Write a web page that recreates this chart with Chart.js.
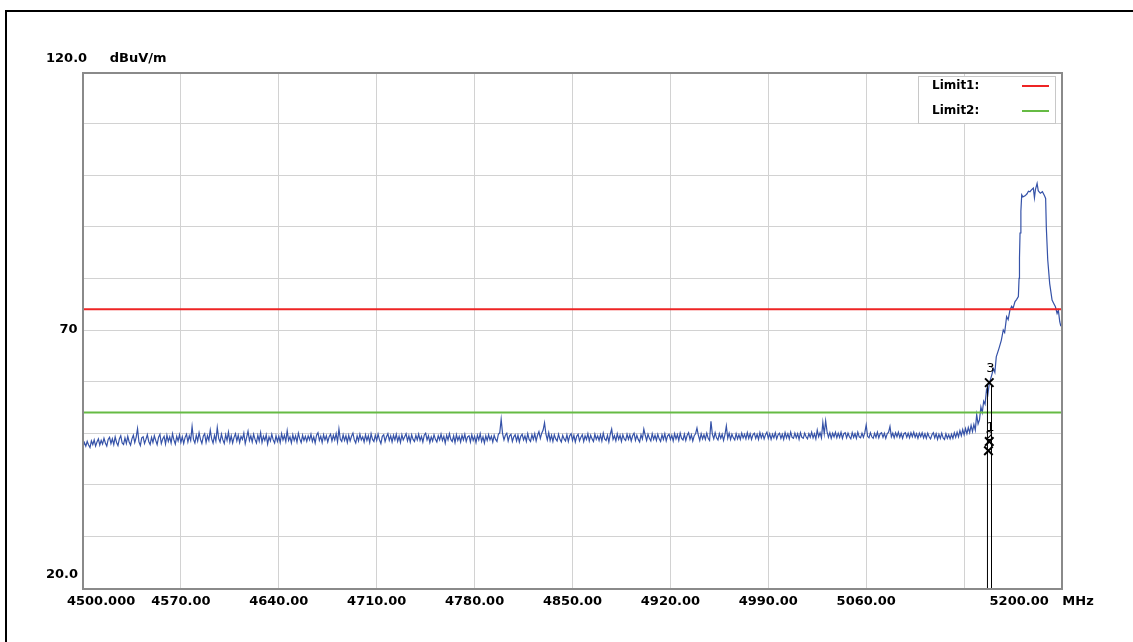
<!DOCTYPE html>
<html>
<head>
<meta charset="utf-8">
<script src="https://cdn.jsdelivr.net/npm/chart.js@4.4.1/dist/chart.umd.min.js"></script>
<style>
html,body{margin:0;padding:0;background:#fff;}
canvas{display:block;}
</style>
</head>
<body>
<canvas id="c" width="1133" height="642" style="width:1133px;height:642px"></canvas>
<script>
// ---- data ----
const sweepStart = 4500;
const sweepStep = 1;
const noiseLevels = [
  47.3, 48.2, 47.5, 48.4, 47.7, 47.2, 48.5, 47.8, 48.7, 47.5,
  48.3, 48.9, 47.7, 48.6, 47.9, 49.0, 48.1, 47.5, 48.8, 49.2,
  48.0, 48.9, 47.8, 49.3, 48.2, 47.6, 48.9, 49.5, 48.1, 47.8,
  49.1, 48.0, 49.4, 48.3, 47.7, 48.9, 49.6, 48.2, 49.2, 50.9,
  48.3, 47.6, 49.1, 49.3, 48.0, 48.8, 49.7, 48.4, 47.8, 49.2,
  48.2, 49.5, 48.6, 47.8, 49.2, 49.8, 48.0, 48.9, 49.4, 47.9,
  49.6, 48.4, 49.3, 48.1, 49.9, 48.7, 47.9, 49.4, 48.5, 49.7,
  48.2, 49.3, 48.0, 49.2, 49.8, 48.3, 49.5, 48.6, 51.3, 48.8,
  48.1, 49.6, 48.5, 50.1, 48.8, 48.0, 49.4, 49.9, 48.2, 49.5,
  48.6, 50.6, 48.9, 48.1, 49.6, 48.5, 51.1, 49.0, 48.3, 49.8,
  48.7, 48.0, 49.7, 48.6, 50.2, 48.3, 49.5, 48.1, 49.2, 49.9,
  48.5, 49.6, 48.2, 49.4, 48.8, 50.0, 48.0, 49.2, 50.4, 48.6,
  49.5, 48.3, 49.8, 48.8, 48.1, 49.6, 48.5, 50.1, 48.2, 49.4,
  48.6, 49.7, 47.9, 49.3, 48.5, 49.8, 48.7, 48.1, 49.5, 48.4,
  49.4, 48.2, 49.9, 48.7, 49.6, 48.4, 50.5, 48.6, 49.3, 48.1,
  49.7, 48.6, 49.5, 48.3, 50.0, 48.9, 48.2, 49.6, 48.6, 49.4,
  48.4, 49.5, 48.7, 49.8, 48.4, 49.3, 48.1, 49.6, 50.1, 48.6,
  49.4, 48.2, 49.7, 48.7, 49.5, 48.3, 49.3, 49.8, 48.5, 49.6,
  48.7, 49.9, 48.3, 50.8, 48.8, 48.4, 49.7, 48.6, 49.5, 48.2,
  49.6, 48.5, 49.4, 50.0, 48.7, 48.1, 49.5, 48.5, 49.8, 48.7,
  49.3, 48.3, 49.7, 48.6, 49.5, 48.2, 49.9, 48.8, 48.4, 49.6,
  48.6, 49.8, 48.7, 48.0, 49.4, 49.7, 48.4, 49.3, 49.9, 48.6,
  49.5, 48.3, 49.6, 48.7, 49.8, 48.4, 49.4, 48.2, 49.7, 48.7,
  49.3, 49.9, 48.5, 49.5, 48.3, 49.7, 48.8, 48.4, 49.6, 48.7,
  49.8, 48.6, 49.4, 48.3, 49.6, 50.0, 48.7, 49.5, 48.2, 49.3,
  48.5, 49.7, 48.8, 48.3, 49.5, 48.7, 49.8, 48.6, 49.4, 48.1,
  49.6, 48.7, 49.9, 48.8, 48.4, 49.5, 48.2, 49.7, 48.6, 49.4,
  48.3, 49.6, 48.7, 49.8, 48.4, 49.3, 49.5, 48.3, 49.7, 48.6,
  49.4, 48.2, 49.6, 48.7, 49.9, 48.4, 49.3, 48.1, 49.5, 48.6,
  49.7, 48.7, 49.4, 48.3, 49.6, 48.8, 48.4, 49.8, 50.1, 52.7,
  49.9, 48.7, 49.6, 50.0, 48.5, 49.5, 49.8, 48.4, 49.3, 49.7,
  48.5, 49.6, 48.3, 49.4, 49.8, 48.7, 49.5, 48.4, 49.9, 48.8,
  48.4, 49.7, 48.8, 49.9, 48.5, 49.6, 50.3, 49.0, 50.0, 50.6,
  52.0, 49.8, 48.7, 50.1, 48.6, 49.6, 48.4, 49.7, 48.9, 48.5,
  49.8, 48.8, 48.3, 49.6, 48.9, 48.5, 49.7, 48.4, 49.5, 49.9,
  48.6, 49.6, 48.3, 49.4, 49.8, 48.5, 49.2, 49.7, 48.4, 49.5,
  48.8, 49.9, 48.5, 49.6, 48.9, 48.4, 49.8, 48.8, 49.5, 48.6,
  49.7, 48.5, 50.0, 48.9, 48.6, 49.6, 48.3, 49.8, 50.8, 48.8,
  49.5, 48.5, 49.9, 48.8, 49.6, 48.4, 49.7, 48.9, 48.6, 49.8,
  48.8, 49.7, 48.5, 49.5, 50.0, 48.6, 49.6, 48.8, 48.3, 49.7,
  48.9, 50.8, 49.6, 48.6, 49.8, 49.0, 48.5, 49.9, 48.8, 49.6,
  48.6, 49.8, 48.9, 48.4, 49.7, 48.8, 49.9, 48.5, 49.5, 49.8,
  48.8, 49.6, 48.5, 49.9, 48.9, 49.7, 48.6, 50.0, 49.0, 48.7,
  49.8, 48.6, 49.6, 50.1, 48.8, 49.7, 48.5, 49.5, 49.9, 51.0,
  49.6, 48.6, 49.9, 48.9, 49.7, 48.8, 50.0, 49.0, 48.6, 52.3,
  49.8, 48.9, 50.1, 49.1, 48.7, 49.9, 49.0, 49.8, 48.6, 49.7,
  51.4, 49.0, 50.0, 48.8, 49.8, 49.1, 48.7, 49.9, 48.9, 49.7,
  48.8, 50.0, 49.1, 49.8, 48.9, 50.1, 49.0, 49.9, 48.8, 49.7,
  50.0, 49.0, 49.8, 48.8, 50.1, 49.1, 49.9, 48.9, 49.7, 50.2,
  49.0, 49.9, 48.8, 49.8, 49.1, 50.1, 48.9, 49.7, 50.0, 49.0,
  49.8, 48.8, 50.1, 49.1, 49.9, 48.9, 50.2, 49.2, 49.0, 50.0,
  49.1, 49.9, 48.8, 50.1, 49.2, 49.0, 50.0, 49.3, 48.9, 49.9,
  49.2, 50.2, 49.1, 49.9, 48.9, 50.6, 49.3, 50.1, 49.1, 52.1,
  49.9, 52.4, 50.3, 49.2, 50.1, 49.0, 50.0, 49.3, 50.2, 49.1,
  50.0, 49.2, 50.2, 49.0, 49.9, 50.1, 49.1, 50.0, 49.3, 48.9,
  50.1, 49.2, 49.9, 49.0, 50.2, 49.3, 49.1, 50.0, 49.2, 50.1,
  51.6, 49.4, 49.1, 50.1, 49.3, 49.0, 50.0, 49.2, 50.2, 49.1,
  49.9, 50.1, 49.2, 50.0, 49.0, 49.9, 50.2, 51.3, 49.3, 50.0,
  49.1, 50.1, 49.3, 50.2, 49.2, 50.0, 49.0, 49.9, 50.1, 49.2,
  50.0, 49.1, 50.1, 49.3, 50.2, 49.2, 49.9, 49.0, 50.0, 49.3,
  50.1, 49.1, 49.9, 49.0, 50.0, 49.3, 48.9, 49.7, 50.1, 49.1,
  49.9, 48.8, 49.8, 49.0, 50.0, 49.1, 48.8, 49.9, 49.0, 49.7,
  48.9, 49.8, 49.0, 50.1, 49.2, 50.2, 49.3, 50.5, 49.5, 50.7,
  49.7, 50.9, 49.9, 51.1, 50.1, 51.5, 50.3, 51.7, 50.6
];
const peakFreqs = [
  5139, 5140, 5141, 5142, 5143, 5144, 5145, 5146, 5147, 5148,
  5149.5, 5151, 5152, 5153, 5155, 5156.6, 5158, 5159, 5160.4, 5161.5,
  5162.8, 5164, 5165, 5166.4, 5167.5, 5168.8, 5169.3, 5169.6, 5170, 5170.6,
  5171.2, 5172, 5173.6, 5175, 5176, 5177.1, 5178, 5179.5, 5180.3, 5181,
  5182.2, 5183, 5184.5, 5186, 5187.5, 5188.3, 5188.8, 5189.8, 5191.2, 5192.9,
  5194, 5195.3, 5196.5, 5197.4, 5198.4, 5199, 5200
];
const peakLevels = [
  53.6, 51.8, 52.6, 55.1, 54.0, 56.2, 55.6, 58.4, 57.5, 59.6,
  61.0, 62.5, 61.8, 64.8, 66.5, 68.0, 70.0, 69.5, 72.6, 72.0,
  73.9, 74.6, 74.2, 75.5, 75.9, 76.5, 80.0, 84.0, 88.8, 93.0,
  96.2, 95.8, 96.0, 96.4, 96.9, 96.8, 97.1, 97.5, 95.6, 97.2,
  98.4, 97.0, 96.5, 96.8, 96.0, 95.5, 89.8, 83.6, 79.0, 75.8,
  75.2, 74.5, 73.2, 73.8, 71.6, 70.9, 71.3
];
const limitNames = ['Limit1:', 'Limit2:'];
const limitLevels = [74, 54];
const limitColors = ['#ee2424', '#66bb44'];
const markerNames = ['1', '2', '3'];
const markerFreqs = [5148.0, 5147.4, 5148.0];
const markerLevels = [48.4, 46.6, 59.8];
const markerLineFreqs = [5146.7, 5149.6];
const markerLineTop = 59.4;
const xTickLabels = ['        4500.000', '4570.00', '4640.00', '4710.00', '4780.00', '4850.00',
  '4920.00', '4990.00', '5060.00', '', '5200.00   MHz         '];
const yTopLabel = '120.0     dBuV/m';
const yTickValues = [70, 20];
const yTickTexts = ['   70', ['20.0', '']];
const xMin = 4500, xMax = 5200, xStep = 70;
const yMin = 20, yMax = 120, yStep = 10;

// ---- build datasets ----
const tracePoints = noiseLevels.map((v, i) => ({ x: sweepStart + i * sweepStep, y: v }))
  .concat(peakFreqs.map((f, i) => ({ x: f, y: peakLevels[i] })));

const FONT = "'DejaVu Sans', 'Liberation Sans', sans-serif";
const datasets = [];
datasets.push({
  label: 'markers', type: 'scatter',
  data: markerFreqs.map((f, i) => ({ x: f, y: markerLevels[i] })),
  pointStyle: 'crossRot', pointRadius: 6, pointBorderWidth: 2,
  borderColor: '#000', backgroundColor: '#000', showLine: false, order: 0
});
markerLineFreqs.forEach((f, i) => {
  datasets.push({
    label: 'markerLine' + i, data: [{ x: f, y: yMin }, { x: f, y: markerLineTop }],
    borderColor: '#000', borderWidth: 1, pointRadius: 0, order: 1
  });
});
limitLevels.forEach((lv, i) => {
  datasets.push({
    label: limitNames[i], data: [{ x: xMin, y: lv }, { x: xMax, y: lv }],
    borderColor: limitColors[i], borderWidth: 2, pointRadius: 0, order: 2, isLimit: true
  });
});
datasets.push({
  label: 'trace', data: tracePoints, borderColor: '#3552a8', borderWidth: 1.2,
  pointRadius: 0, order: 3
});

const decorPlugin = {
  id: 'decor',
  afterDraw(chart) {
    const ctx = chart.ctx;
    const a = chart.chartArea;
    const xs = chart.scales.x, ys = chart.scales.y;
    ctx.save();
    // plot border
    ctx.strokeStyle = '#8a8a8a';
    ctx.lineWidth = 2;
    ctx.strokeRect(a.left, a.top + 1, a.right - a.left, a.bottom - a.top);
    // outer frame
    ctx.strokeStyle = '#000';
    ctx.lineWidth = 2;
    ctx.beginPath();
    ctx.moveTo(6, 700);
    ctx.lineTo(6, 11);
    ctx.lineTo(1200, 11);
    ctx.stroke();
    // legend
    const lx = 918, ly = 76, lw = 137, lh = 47;
    ctx.fillStyle = '#fff';
    ctx.fillRect(lx, ly, lw, lh);
    ctx.strokeStyle = '#c8c8c8';
    ctx.lineWidth = 1;
    ctx.strokeRect(lx + 0.5, ly + 0.5, lw, lh);
    const limits = chart.data.datasets.filter(d => d.isLimit);
    limits.forEach((d, i) => {
      const y = ly + 10 + i * 25;
      ctx.fillStyle = '#000';
      ctx.font = 'bold 12px ' + FONT;
      ctx.textAlign = 'left';
      ctx.textBaseline = 'middle';
      ctx.fillText(d.label, lx + 14, y);
      ctx.strokeStyle = d.borderColor;
      ctx.lineWidth = 2;
      ctx.beginPath();
      ctx.moveTo(lx + 104, y);
      ctx.lineTo(lx + 131, y);
      ctx.stroke();
    });
    // marker labels
    ctx.fillStyle = '#000';
    ctx.font = '13px ' + FONT;
    ctx.textAlign = 'center';
    ctx.textBaseline = 'middle';
    markerNames.forEach((n, i) => {
      const px = xs.getPixelForValue(markerFreqs[i]);
      const py = ys.getPixelForValue(markerLevels[i]);
      ctx.fillText(n, px + 1, py - 14);
    });
    ctx.restore();
  }
};

new Chart(document.getElementById('c').getContext('2d'), {
  type: 'line',
  data: { datasets },
  options: {
    responsive: false,
    animation: false,
    devicePixelRatio: 1,
    layout: { padding: { left: 46, right: 71, top: 51, bottom: 0 } },
    plugins: {
      legend: { display: false },
      tooltip: { enabled: false },
      title: {
        display: true, text: yTopLabel, align: 'start', color: '#000',
        font: { family: FONT, size: 13, weight: 'bold', lineHeight: 1.2 },
        padding: { top: 0, bottom: 5.4 }
      }
    },
    elements: { point: { radius: 0 }, line: { tension: 0 } },
    scales: {
      x: {
        type: 'linear', min: xMin, max: xMax,
        ticks: {
          stepSize: xStep, autoSkip: false, maxRotation: 0, minRotation: 0, padding: 6,
          color: '#000', font: { family: FONT, size: 13, weight: 'bold' },
          callback: (v, i) => xTickLabels[i] !== undefined ? xTickLabels[i] : ''
        },
        grid: { color: '#d2d2d2', lineWidth: 1, drawTicks: false },
        border: { display: false },
        afterFit: s => { s.height = 54; s.paddingLeft = 0; s.paddingRight = 0; }
      },
      y: {
        type: 'linear', min: yMin, max: yMax,
        ticks: {
          stepSize: yStep, autoSkip: false, crossAlign: 'far', padding: 0,
          color: '#000', font: { family: FONT, size: 13, weight: 'bold', lineHeight: 2 },
          callback: v => { const k = yTickValues.indexOf(v); return k >= 0 ? yTickTexts[k] : ''; }
        },
        grid: { color: '#d2d2d2', lineWidth: 1, drawTicks: false },
        border: { display: false },
        afterFit: s => { s.width = 37; s.paddingTop = 0; s.paddingBottom = 0; }
      }
    }
  },
  plugins: [decorPlugin]
});
</script>
</body>
</html>
